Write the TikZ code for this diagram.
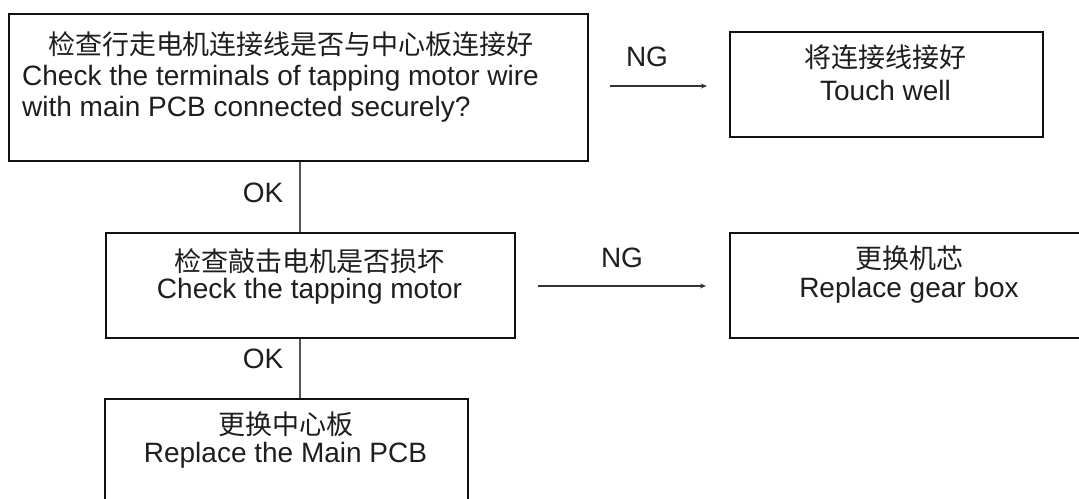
\documentclass[tikz,border=0pt]{standalone}
\usepackage{fontspec}
\setmainfont{Liberation Sans}
\newfontfamily\cjk{Noto Sans CJK SC}
\usetikzlibrary{arrows.meta}
\definecolor{txt}{HTML}{1E1E1E}
\definecolor{edge}{HTML}{111111}
\definecolor{conn}{HTML}{555555}
\definecolor{arr}{HTML}{333333}
\begin{document}
\begin{tikzpicture}[x=1pt,y=-1pt,
  boxst/.style={draw=edge,line width=1.8pt,fill=none},
  tx/.style={text=txt,font=\fontsize{28}{33}\selectfont,inner sep=0pt,align=center},
  cj/.style={text=txt,font=\fontsize{27}{32}\selectfont\cjk,inner sep=0pt,align=center},
  vline/.style={draw=conn,line width=1.2pt},
  harrow/.style={draw=arr,line width=2pt,-{Stealth[length=6pt,width=5pt]}},
  lbl/.style={text=txt,font=\fontsize{28}{33}\selectfont,inner sep=0pt}]
\useasboundingbox (0,0) rectangle (1079,498);
\clip (0,0) rectangle (1079,498);
\fill[white] (0,0) rectangle (1079,498);
% boxes
\node[boxst,minimum width=579pt,minimum height=147pt,anchor=north west,inner sep=0pt] (b1) at (8,13) {};
\node[boxst,minimum width=313pt,minimum height=105pt,anchor=north west,inner sep=0pt] (b2) at (729,31) {};
\node[boxst,minimum width=409pt,minimum height=105pt,anchor=north west,inner sep=0pt] (b3) at (105,232) {};
\node[boxst,minimum width=361pt,minimum height=105pt,anchor=north west,inner sep=0pt] (b4) at (729,232) {};
\node[boxst,minimum width=363pt,minimum height=110pt,anchor=north west,inner sep=0pt] (b5) at (104,398) {};
% texts
\node[cj,anchor=center] (t1a) at (291,44) {检查行走电机连接线是否与中心板连接好};
\node[tx,anchor=west] (t1b) at (22,78) {Check the terminals of tapping motor wire};
\node[tx,anchor=west] (t1c) at (22,109) {with main PCB connected securely?};
\node[cj] (t2a) at (885.5,57) {将连接线接好};
\node[tx] (t2b) at (885.5,90) {Touch well};
\node[cj] (t3a) at (309.5,261) {检查敲击电机是否损坏};
\node[tx] (t3b) at (309.5,291) {Check the tapping motor};
\node[cj] (t4a) at (909,258) {更换机芯};
\node[tx] (t4b) at (909,290) {Replace gear box};
\node[cj] (t5a) at (285.5,424) {更换中心板};
\node[tx] (t5b) at (285.5,455) {Replace the Main PCB};
% connectors
\coordinate (a1s) at (610,86);
\coordinate (a1e) at (707,86);
\coordinate (a2s) at (538,286);
\coordinate (a2e) at (706,286);
\draw[harrow] (a1s) -- (a1e);
\draw[harrow] (a2s) -- (a2e);
\draw[vline] (b1.south -| 300,0) -- (b3.north -| 300,0);
\draw[vline] (b3.south -| 300,0) -- (b5.north -| 300,0);
% labels
\node[lbl] (ng1) at (647,57) {NG};
\node[lbl] (ng2) at (622,258) {NG};
\node[lbl] (ok1) at (263,193) {OK};
\node[lbl] (ok2) at (263,359) {OK};
\end{tikzpicture}
\end{document}
